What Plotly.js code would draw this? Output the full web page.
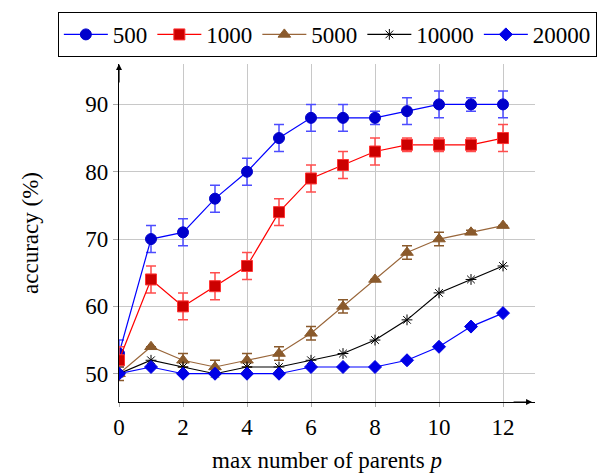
<!DOCTYPE html>
<html>
<head>
<meta charset="utf-8">
<script src="https://cdn.plot.ly/plotly-3.0.1.min.js"></script>
<style>
html,body{margin:0;padding:0;background:#fff;}
#chart{width:614px;height:473px;}
svg text{font-family:'Liberation Serif','Times New Roman',serif !important;}
</style>
</head>
<body>
<div id="chart"></div>
<script>
// ---- data ----
const parents = [0,1,2,3,4,5,6,7,8,9,10,11,12];
const seriesNames = ["500","1000","5000","10000","20000"];
const acc500   = [53,70,71,76,80,85,88,88,88,89,90,90,90];
const err500   = [2,2,2,2,2,2,2,2,1,2,2,1,2];
const acc1000  = [52,64,60,63,66,74,79,81,83,84,84,84,85];
const err1000  = [2,2,2,2,2,2,2,2,2,1,1,1,2];
const acc5000  = [50,54,52,51,52,53,56,60,64,68,70,71,72];
const err5000  = [1,0,1,1,1,1,1,1,0,1,1,0.3,0];
const acc10000 = [50,52,51,50,51,51,52,53,55,58,62,64,66];
const acc20000 = [50,51,50,50,50,50,51,51,51,52,54,57,59];
const xTicks = [0,2,4,6,8,10,12];
const yTicks = [50,60,70,80,90];

const FONT = 'Liberation Serif';

function tr(name, y, err, lineColor, markerColor, markerLine, symbol, size, errColor) {
  const t = {
    x: parents, y: y, name: name, type: 'scatter', mode: 'lines+markers',
    line: {color: lineColor, width: 1.2},
    marker: {symbol: symbol, size: size, color: markerColor, line: {color: markerLine, width: 1}},
  };
  if (err) {
    t.error_y = {type: 'data', array: err, visible: true, color: errColor, thickness: 1.5, width: 5};
  }
  return t;
}

const data = [
  tr(seriesNames[0], acc500, err500, '#0000ff', '#0000cc', '#0000cc', 'circle', 11, '#4d4dff'),
  tr(seriesNames[1], acc1000, err1000, '#ff0000', '#cc0000', '#ff3333', 'square', 11, '#ff4d4d'),
  tr(seriesNames[2], acc5000, err5000, '#99663a', '#8a5a2c', '#8a5a2c', 'triangle-up', 11, '#8a5a2c'),
  tr(seriesNames[3], acc10000, null, '#000000', '#000000', '#000000', 'asterisk-open', 9, '#000'),
  tr(seriesNames[4], acc20000, null, '#0000ff', '#0000e6', '#0000e6', 'diamond', 10, '#00f'),
];

const layout = {
  width: 614, height: 473,
  margin: {l: 119, r: 79, t: 58, b: 71},
  paper_bgcolor: '#fff', plot_bgcolor: '#fff',
  font: {family: FONT, size: 23, color: '#000'},
  showlegend: true,
  legend: {
    orientation: 'h', xref: 'paper', yref: 'paper',
    x: -0.147, xanchor: 'left', y: 1.154, yanchor: 'top',
    bordercolor: '#000', borderwidth: 1, font: {family: FONT, size: 23, color: '#000'},
    itemwidth: 44, tracegroupgap: 0
  },
  xaxis: {
    range: [0, 13], tickvals: xTicks, ticktext: xTicks.map(String),
    tickfont: {family: FONT, size: 23, color: '#000'},
    showgrid: true, gridcolor: '#c8c8c8', gridwidth: 1,
    showline: true, linecolor: '#000', linewidth: 1.2,
    ticks: 'outside', ticklen: 4, tickcolor: '#aaa',
    zeroline: false, ticklabelstandoff: 0,
    title: {text: 'max number of parents <i>p</i>', font: {family: FONT, size: 23, color: '#000'}, standoff: 14}
  },
  yaxis: {
    range: [45.8, 96], tickvals: yTicks, ticktext: yTicks.map(String),
    tickfont: {family: FONT, size: 23, color: '#000'},
    showgrid: true, gridcolor: '#c8c8c8', gridwidth: 1,
    showline: true, linecolor: '#000', linewidth: 1.2,
    ticks: 'outside', ticklen: 5, tickcolor: '#aaa',
    zeroline: false, ticklabelstandoff: 0,
    title: {text: 'accuracy (%)', font: {family: FONT, size: 23, color: '#000'}, standoff: 40}
  },
  annotations: [
    {x: 0, y: 1, xref: 'paper', yref: 'paper', text: '', showarrow: true,
     ax: 0, ay: 20, arrowhead: 2, arrowsize: 1, arrowwidth: 1.2, arrowcolor: '#000'},
    {x: 0.993, y: 0, xref: 'paper', yref: 'paper', text: '', showarrow: true,
     ax: -20, ay: 0, arrowhead: 2, arrowsize: 1, arrowwidth: 1.2, arrowcolor: '#000'}
  ]
};

Plotly.newPlot('chart', data, layout, {displayModeBar: false, staticPlot: true});
</script>
</body>
</html>
